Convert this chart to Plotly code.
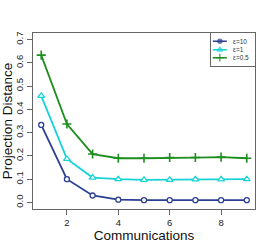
import plotly.graph_objects as go

communications = [1, 2, 3, 4, 5, 6, 7, 8, 9]
eps10 = [0.333, 0.100, 0.030, 0.012, 0.010, 0.010, 0.010, 0.010, 0.010]
eps1 = [0.458, 0.187, 0.107, 0.100, 0.097, 0.097, 0.099, 0.099, 0.100]
eps05 = [0.633, 0.337, 0.208, 0.190, 0.190, 0.193, 0.193, 0.195, 0.190]
series_names = ["ε=10", "ε=1", "ε=0.5"]
y_ticks = [0.0, 0.1, 0.2, 0.3, 0.4, 0.5, 0.6, 0.7]
x_ticks = [2, 4, 6, 8]

colors = ["#2B3F92", "#18D3D6", "#1E8E1E"]
symbols = ["circle", "triangle-up", "cross-thin-open"]
fills = ["white", "white", None]
sizes = [5, 6, 6.5]
mline = [1.3, 1.3, 1.6]

fig = go.Figure()
for name, vals, c, s, f, sz, mw in zip(series_names, [eps10, eps1, eps05], colors, symbols,
                                       fills, sizes, mline):
    fig.add_trace(go.Scatter(
        x=communications, y=vals, name=name, mode="lines+markers",
        line=dict(color=c, width=1.8),
        marker=dict(symbol=s, size=sz, color=f if f else c, line=dict(color=c, width=mw)),
        showlegend=False,
    ))

# hand-built compact legend (R style) on an overlay axis
leg_rows = [0.75, 0.49, 0.245]
for name, c, s, sz, yr in zip(series_names, colors, symbols, sizes, leg_rows):
    fig.add_trace(go.Scatter(
        x=[0.04, 0.2, 0.36], y=[yr] * 3, mode="lines+markers",
        line=dict(color=c, width=1.5),
        marker=dict(symbol=s.replace("-open", ""), size=[0, sz - 1, 0], color=c,
                    line=dict(color=c, width=1.5)),
        xaxis="x2", yaxis="y2", showlegend=False, hoverinfo="skip",
    ))
    fig.add_annotation(x=0.45, y=yr, xref="x2", yref="y2", text=name, showarrow=False,
                       xanchor="left", yanchor="middle",
                       font=dict(size=6.5, color="#333"))

axis_common = dict(
    showline=True, mirror=True, linecolor="#666", linewidth=1,
    ticks="outside", ticklen=5, tickcolor="#666", tickwidth=1,
    showgrid=False, zeroline=False, automargin=False,
    tickfont=dict(size=9.5, color="#222"),
)
box_axis = dict(range=[0, 1], showline=True, mirror=True,
                linecolor="#666", linewidth=1, showticklabels=False, ticks="",
                showgrid=False, zeroline=False, fixedrange=True)

fig.update_layout(
    width=273, height=251,
    margin=dict(l=33, r=18, t=33, b=42),
    paper_bgcolor="white", plot_bgcolor="white",
    font=dict(family="Liberation Sans, Arial, sans-serif"),
    showlegend=False,
    xaxis=dict(range=[0.68, 9.32], tickvals=x_ticks, ticktext=[str(v) for v in x_ticks],
               title=dict(text="Communications", font=dict(size=13.5, color="#111"), standoff=0),
               **axis_common),
    yaxis=dict(range=[-0.028, 0.728], tickvals=y_ticks, ticktext=[f"{v:.1f}" for v in y_ticks],
               tickangle=-90,
               title=dict(text="Projection Distance", font=dict(size=13.5, color="#111"), standoff=2),
               **axis_common),
    xaxis2=dict(domain=[0.802, 1.0], anchor="y2", **box_axis),
    yaxis2=dict(domain=[0.814, 1.0], anchor="x2", **box_axis),
)

fig.write_html("out.html", config={"displayModeBar": False},
               post_script="document.body.style.margin='0px';")
